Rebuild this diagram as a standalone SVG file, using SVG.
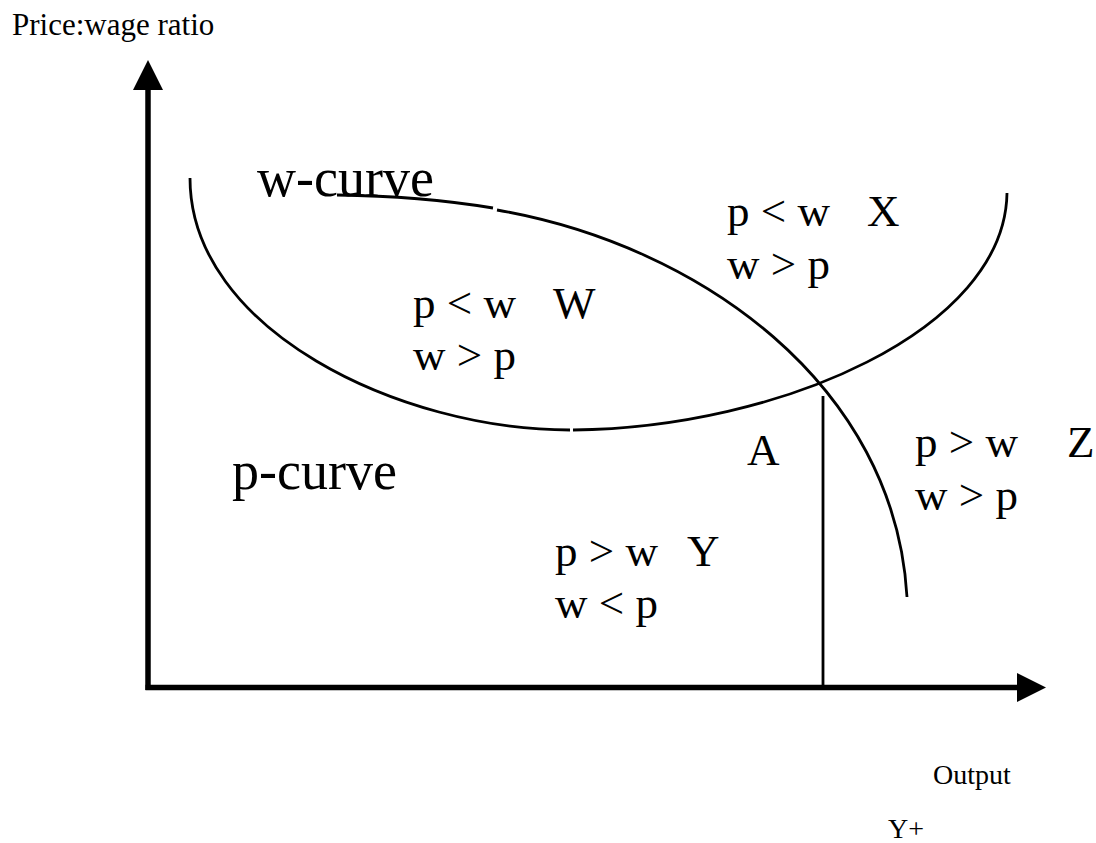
<svg xmlns="http://www.w3.org/2000/svg" width="1096" height="843" viewBox="0 0 1096 843">
<style>
text{font-family:"Liberation Serif","Times New Roman",serif;fill:#000}
.lbl{font-size:45px}
.big{font-size:54px}
.small{font-size:28px}
.axis{stroke:#000;stroke-width:5.5;fill:none}
.curve{stroke:#000;stroke-width:2.8;fill:none}
</style>
<rect width="1096" height="843" fill="#fff"/>
<g id="connectors">
<line class="axis" x1="148" y1="690" x2="148" y2="86"/>
<polygon points="148,60 133,90 163,90" fill="#000"/>
<line class="axis" x1="145.5" y1="687.5" x2="1020" y2="687.5"/>
<polygon points="1046,687.5 1017,673 1017,702" fill="#000"/>
<line x1="823" y1="396" x2="823" y2="687" stroke="#000" stroke-width="2.8"/>
</g>
<g id="p-curve-line">
<path class="curve" d="M190,178 C190,330 400,430 570,430"/>
<path class="curve" d="M573,430 C780,428 1005,330 1007,193"/>
</g>
<g id="w-curve-line">
<path class="curve" d="M337,195 Q420,196 493,208"/>
<path class="curve" d="M497,210 C700,245 895,385 907,597"/>
</g>
<g id="axis-labels">
<text class="small" x="12" y="35" style="font-size:31px">Price:wage ratio</text>
<text class="small" x="933" y="784">Output</text>
<text class="small" x="888" y="838">Y+</text>
</g>
<g id="curve-labels">
<text class="big" x="257" y="196">w-curve</text>
<text class="big" x="232" y="489">p-curve</text>
</g>
<g id="region-W">
<text class="lbl" x="413" y="318">p &lt; w</text>
<text class="lbl" x="553" y="318">W</text>
<text class="lbl" x="413" y="370">w &gt; p</text>
</g>
<g id="region-X">
<text class="lbl" x="727" y="226">p &lt; w</text>
<text class="lbl" x="867" y="226">X</text>
<text class="lbl" x="727" y="279">w &gt; p</text>
</g>
<g id="point-A">
<text class="lbl" x="747" y="465">A</text>
</g>
<g id="region-Z">
<text class="lbl" x="915" y="457">p &gt; w</text>
<text class="lbl" x="1067" y="457">Z</text>
<text class="lbl" x="915" y="510">w &gt; p</text>
</g>
<g id="region-Y">
<text class="lbl" x="555" y="566">p &gt; w</text>
<text class="lbl" x="687" y="566">Y</text>
<text class="lbl" x="555" y="618">w &lt; p</text>
</g>
</svg>
